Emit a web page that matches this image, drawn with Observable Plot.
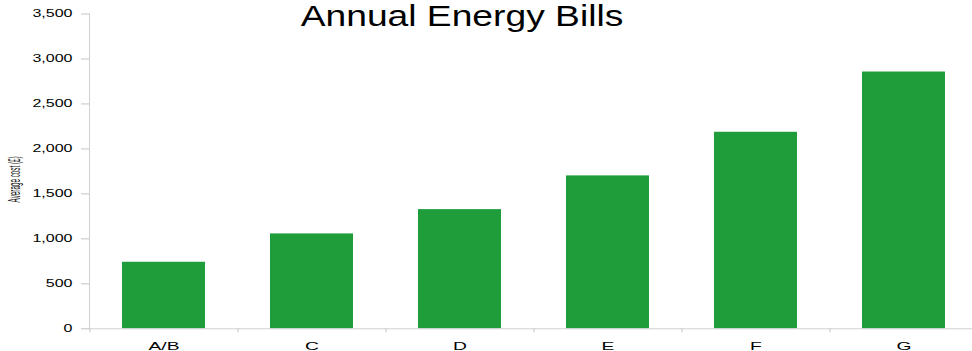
<!DOCTYPE html>
<html>
<head>
<meta charset="utf-8">
<script src="https://cdn.jsdelivr.net/npm/d3@7"></script>
<script src="https://cdn.jsdelivr.net/npm/@observablehq/plot@0.6"></script>
<style>
  html, body { margin: 0; padding: 0; background: #fff; overflow: hidden; }
  #chart { position: relative; width: 972px; height: 351px; }
  #title {
    position: absolute; top: 1px; left: 461.5px;
    font: 30px/30px "Liberation Sans", Arial, sans-serif; color: #000;
    white-space: nowrap; transform: translateX(-50%) scaleX(1.24);
    z-index: 2;
  }
  #chart svg { position: absolute; left: 0; top: 0; font-family: "Liberation Sans", Arial, sans-serif; }
</style>
</head>
<body>
<div id="chart"><div id="title">Annual Energy Bills</div></div>
<script>
// EPC rating bands and the average annual bill for each
const categories = ["A/B", "C", "D", "E", "F", "G"];
const costs = [740, 1055, 1325, 1700, 2185, 2855];
const yTicks = [0, 500, 1000, 1500, 2000, 2500, 3000, 3500];
const yLabel = "Average cost (£)";

const rows = categories.map((band, i) => ({band, cost: costs[i]}));

const chart = Plot.plot({
  width: 972,
  height: 351,
  marginTop: 13.5,
  marginBottom: 22.7,
  marginLeft: 89,
  marginRight: -6,
  x: {domain: categories, paddingInner: 0.44, paddingOuter: 0.22, label: null},
  y: {domain: [0, 3500], label: null},
  marks: [
    Plot.barY(rows, {x: "band", y: "cost", fill: "#1f9d3a"}),
    Plot.frame({anchor: "left", stroke: "#cfcfcf"}),
    Plot.frame({anchor: "bottom", stroke: "#cfcfcf"}),
    Plot.axisY({ticks: yTicks, tickSize: 8, tickPadding: 9, tickFormat: d3.format(","),
                stroke: "#c4c4c4", fill: "#000", fontSize: 10, label: null}),
    // small ticks between bands, below the baseline
    Plot.axisX({tickSize: 4, tickFormat: () => "", dx: -74, stroke: "#c4c4c4", label: null}),
    Plot.axisX({tickSize: 0, tickPadding: 13, fontSize: 11, fill: "#000", label: null}),
    Plot.text([yLabel], {frameAnchor: "left", rotate: -90, textAnchor: "start", dx: -75, dy: 31,
                         fontSize: 16, fill: "#111", className: "ylabel"})
  ]
});

document.getElementById("chart").appendChild(chart);

// widen the tick labels
function widen(selector, factor) {
  d3.select(chart).selectAll(selector).each(function () {
    const w = this.getComputedTextLength();
    if (w > 0) {
      this.setAttribute("textLength", w * factor);
      this.setAttribute("lengthAdjust", "spacingAndGlyphs");
    }
  });
}
widen('g[aria-label="y-axis tick label"] text', 1.6);
widen('g[aria-label="x-axis tick label"] text', 1.75);
d3.select(chart).selectAll(".ylabel text").each(function () {
  this.setAttribute("textLength", 46);
  this.setAttribute("lengthAdjust", "spacingAndGlyphs");
});
</script>
</body>
</html>
